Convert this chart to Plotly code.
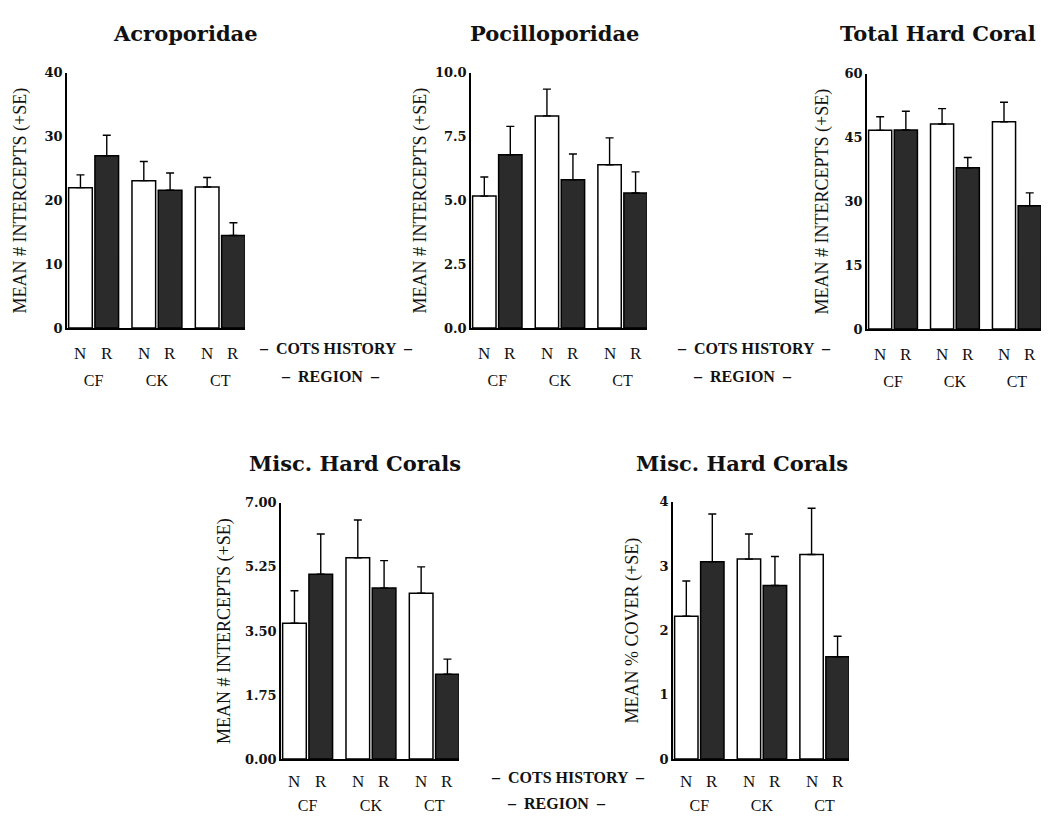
import plotly.graph_objects as go

W, H = 1053, 825

regions = ["CF", "CK", "CT"]
history = ["N", "R"]

titles = ["Acroporidae", "Pocilloporidae", "Total Hard Coral", "Misc. Hard Corals", "Misc. Hard Corals"]
ytitles = ["MEAN # INTERCEPTS (+SE)"] * 4 + ["MEAN % COVER (+SE)"]

# Acroporidae
acro_N = [22.0, 23.1, 22.1]
acro_N_se = [2.0, 3.0, 1.5]
acro_R = [27.0, 21.6, 14.5]
acro_R_se = [3.2, 2.7, 2.0]
# Pocilloporidae
poci_N = [5.17, 8.31, 6.40]
poci_N_se = [0.75, 1.05, 1.05]
poci_R = [6.79, 5.81, 5.29]
poci_R_se = [1.11, 1.01, 0.83]
# Total hard coral
total_N = [46.7, 48.2, 48.7]
total_N_se = [3.2, 3.6, 4.6]
total_R = [46.8, 37.9, 29.0]
total_R_se = [4.4, 2.4, 3.0]
# Misc hard corals (intercepts)
misc_N = [3.71, 5.50, 4.53]
misc_N_se = [0.89, 1.03, 0.72]
misc_R = [5.05, 4.67, 2.32]
misc_R_se = [1.10, 0.75, 0.41]
# Misc hard corals (% cover)
cover_N = [2.22, 3.11, 3.18]
cover_N_se = [0.55, 0.39, 0.72]
cover_R = [3.07, 2.70, 1.59]
cover_R_se = [0.74, 0.45, 0.32]

yticks = [
    [0, 10, 20, 30, 40],
    [0.0, 2.5, 5.0, 7.5, 10.0],
    [0, 15, 30, 45, 60],
    [0.00, 1.75, 3.50, 5.25, 7.00],
    [0, 1, 2, 3, 4],
]
yfmt = ["d", ".1f", "d", ".2f", "d"]

series = [
    (acro_N, acro_N_se, acro_R, acro_R_se),
    (poci_N, poci_N_se, poci_R, poci_R_se),
    (total_N, total_N_se, total_R, total_R_se),
    (misc_N, misc_N_se, misc_R, misc_R_se),
    (cover_N, cover_N_se, cover_R, cover_R_se),
]

# panel pixel boxes: x0, x1, y_top, y_bottom
boxes = [
    (67, 245, 67, 327),
    (471, 647, 67, 327),
    (867, 1041, 68, 328),
    (281, 459, 505, 766),
    (673, 849, 504, 766),
]
title_pos = [(185, 27), (554, 27), (938, 27), (355, 465), (742, 465)]
ytitle_x = [20, 420, 822, 225, 632]
nr_shift = [-25, -25, -25, -22, -22]
reg_standoff = [37, 37, 37, 31, 31]

XR = [-0.42, 2.39]
BARGAP = 0.17

SERIF = "DejaVu Serif"
SERIF2 = "Liberation Serif"

fig = go.Figure()
annotations = []

for i, ((nv, nse, rv, rse), (x0, x1, yt, yb)) in enumerate(zip(series, boxes)):
    k = "" if i == 0 else str(i + 1)
    xa, ya = "x" + k, "y" + k
    for name, vals, se, col in (("N", nv, nse, "white"), ("R", rv, rse, "#2b2b2b")):
        fig.add_trace(go.Bar(
            x=regions, y=vals, name=name, offsetgroup=name,
            marker=dict(color=col, line=dict(color="black", width=1.5)),
            error_y=dict(type="data", symmetric=False, array=se,
                         arrayminus=[0] * len(se), color="black",
                         thickness=1.4, width=4),
            xaxis=xa, yaxis=ya, showlegend=False,
        ))
    ymax = yticks[i][-1]
    fig.layout["xaxis" + k] = dict(
        domain=[x0 / W, x1 / W], anchor=ya, type="category",
        range=XR, showline=True, linecolor="black", linewidth=1.5,
        showgrid=False, zeroline=False, ticks="",
        tickfont=dict(family=SERIF2, size=16, color="#111"),
        ticklabelstandoff=reg_standoff[i],
    )
    fig.layout["yaxis" + k] = dict(
        domain=[1 - yb / H, 1 - yt / H], anchor=xa, range=[0, ymax],
        showline=True, linecolor="black", linewidth=1.5,
        showgrid=False, zeroline=False, ticks="",
        tickvals=yticks[i], tickformat=yfmt[i],
        tickfont=dict(family=SERIF, size=13, color="#111", weight="bold"),
    )
    # y axis title
    annotations.append(dict(
        x=ytitle_x[i] / W, y=1 - (yt + yb) / 2 / H, xref="paper", yref="paper",
        text=ytitles[i], textangle=-90, showarrow=False,
        xanchor="center", yanchor="middle",
        font=dict(family=SERIF2, size=18, color="#111"),
    ))
    # N / R labels under bars
    catw = (x1 - x0) / (XR[1] - XR[0])
    off = (1 - BARGAP) * catw / 4
    for reg in regions:
        for h, s in zip(history, (-1, 1)):
            annotations.append(dict(
                x=reg, y=0, xref=xa, yref=ya + " domain", text=h, showarrow=False,
                xshift=s * off, yshift=nr_shift[i], xanchor="center", yanchor="middle",
                font=dict(family=SERIF2, size=17, color="#111"),
            ))
    tx, ty = title_pos[i]
    annotations.append(dict(
        x=tx / W, y=1 - ty / H, xref="paper", yref="paper", text="<b>" + titles[i] + "</b>",
        showarrow=False, xanchor="center", yanchor="middle",
        font=dict(family=SERIF, size=21, color="#111"),
    ))

for cx, cy, rx, ry in [(336, 348, 330, 376), (754, 348, 742, 376), (568, 785, 556, 811)]:
    annotations.append(dict(x=cx / W, y=1 - cy / H, xref="paper", yref="paper",
                            text="<b>–  COTS HISTORY  –</b>", showarrow=False,
                            xanchor="center", yanchor="middle",
                            font=dict(family=SERIF2, size=16, color="#111")))
    annotations.append(dict(x=rx / W, y=1 - ry / H, xref="paper", yref="paper",
                            text="<b>–  REGION  –</b>", showarrow=False,
                            xanchor="center", yanchor="middle",
                            font=dict(family=SERIF2, size=16, color="#111")))

fig.update_layout(
    width=W, height=H, margin=dict(l=0, r=0, t=0, b=0),
    paper_bgcolor="white", plot_bgcolor="white",
    barmode="group", bargap=BARGAP, bargroupgap=0.1,
    annotations=annotations,
)

fig.write_html("out.html")
